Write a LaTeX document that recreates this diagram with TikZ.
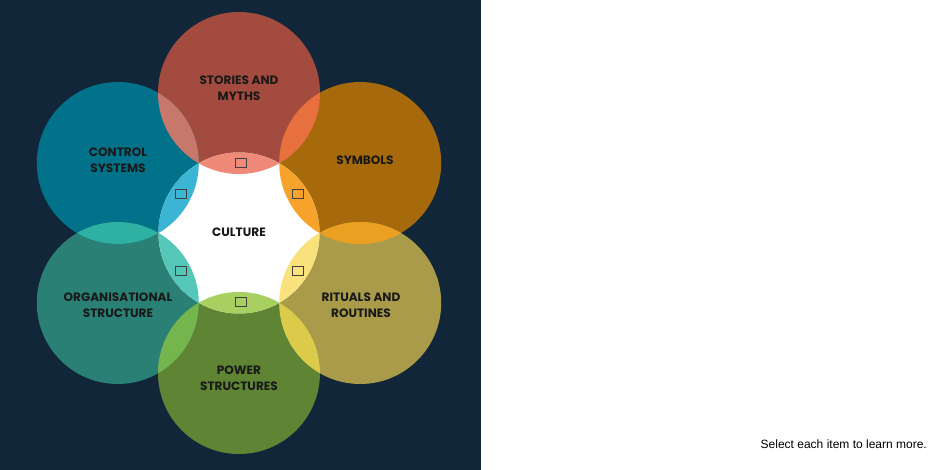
\documentclass[tikz,border=0pt]{standalone}
\usepackage{fontspec}
\setmainfont{Poppins}
\newfontfamily\uifont{Liberation Sans}
\begin{document}
\begin{tikzpicture}[x=1pt,y=-1pt,
  lbl/.style={font=\bfseries\fontsize{12.1}{16}\selectfont, text=black!90, align=center, inner sep=0pt},
  selbox/.style={draw=black!75, line width=0.5pt, minimum width=11pt, minimum height=9pt, inner sep=0pt}]
\definecolor{bg}{HTML}{12263A}
\definecolor{cSto}{HTML}{A44B3F}
\definecolor{cSym}{HTML}{A66A0C}
\definecolor{cRit}{HTML}{A99B4A}
\definecolor{cPow}{HTML}{5F8434}
\definecolor{cOrg}{HTML}{2A8075}
\definecolor{cCon}{HTML}{01728A}
\definecolor{oStoSym}{HTML}{E8703F}
\definecolor{oSymRit}{HTML}{ECA022}
\definecolor{oRitPow}{HTML}{DCCB4A}
\definecolor{oPowOrg}{HTML}{74B54E}
\definecolor{oOrgCon}{HTML}{2EB1A3}
\definecolor{oConSto}{HTML}{C8776B}
\definecolor{iSto}{HTML}{F08A78}
\definecolor{iSym}{HTML}{F7A22A}
\definecolor{iRit}{HTML}{F9E27C}
\definecolor{iPow}{HTML}{A8D060}
\definecolor{iOrg}{HTML}{55C7B8}
\definecolor{iCon}{HTML}{3BB5D3}
\useasboundingbox (0,0) rectangle (940,470);
\fill[white] (0,0) rectangle (940,470);
\fill[bg] (0,0) rectangle (481,470);
\coordinate (O) at (239,233);
\coordinate (Sto) at (239,93);
\coordinate (Sym) at (360.2,163);
\coordinate (Rit) at (360.2,303);
\coordinate (Pow) at (239,373);
\coordinate (Org) at (117.8,303);
\coordinate (Con) at (117.8,163);
\def\R{81}
% main circles
\fill[cSto] (Sto) circle (\R);
\fill[cSym] (Sym) circle (\R);
\fill[cRit] (Rit) circle (\R);
\fill[cPow] (Pow) circle (\R);
\fill[cOrg] (Org) circle (\R);
\fill[cCon] (Con) circle (\R);
% pair overlaps
\begin{scope}\clip (Sto) circle (\R); \fill[oStoSym] (Sym) circle (\R);\end{scope}
\begin{scope}\clip (Sym) circle (\R); \fill[oSymRit] (Rit) circle (\R);\end{scope}
\begin{scope}\clip (Rit) circle (\R); \fill[oRitPow] (Pow) circle (\R);\end{scope}
\begin{scope}\clip (Pow) circle (\R); \fill[oPowOrg] (Org) circle (\R);\end{scope}
\begin{scope}\clip (Org) circle (\R); \fill[oOrgCon] (Con) circle (\R);\end{scope}
\begin{scope}\clip (Con) circle (\R); \fill[oConSto] (Sto) circle (\R);\end{scope}
% centre
\fill[white] (O) circle (80.5);
\begin{scope}\clip (O) circle (80.5);
\fill[iSto] (Sto) circle (\R);
\fill[iSym] (Sym) circle (\R);
\fill[iRit] (Rit) circle (\R);
\fill[iPow] (Pow) circle (\R);
\fill[iOrg] (Org) circle (\R);
\fill[iCon] (Con) circle (\R);
\end{scope}
% small boxes
\node[selbox] (bSto) at (240.5,163) {};
\node[selbox] (bSym) at (297.5,194) {};
\node[selbox] (bRit) at (297.5,271) {};
\node[selbox] (bPow) at (240.5,302) {};
\node[selbox] (bOrg) at (180.5,271) {};
\node[selbox] (bCon) at (180.5,194) {};
% labels
\node[lbl] (tSto) at (239,88) {STORIES AND\\MYTHS};
\node[lbl] (tCon) at (118,160) {CONTROL\\SYSTEMS};
\node[lbl] (tSym) at (365,160) {SYMBOLS};
\node[lbl] (tCul) at (239,232) {CULTURE};
\node[lbl] (tOrg) at (118,305) {ORGANISATIONAL\\STRUCTURE};
\node[lbl] (tRit) at (361,305) {RITUALS AND\\ROUTINES};
\node[lbl] (tPow) at (239,378) {POWER\\STRUCTURES};
\node[font=\uifont\fontsize{12}{14}\selectfont, anchor=east, inner sep=0pt, text=black] (hint) at (927,444) {Select each item to learn more.};
\end{tikzpicture}
\end{document}
